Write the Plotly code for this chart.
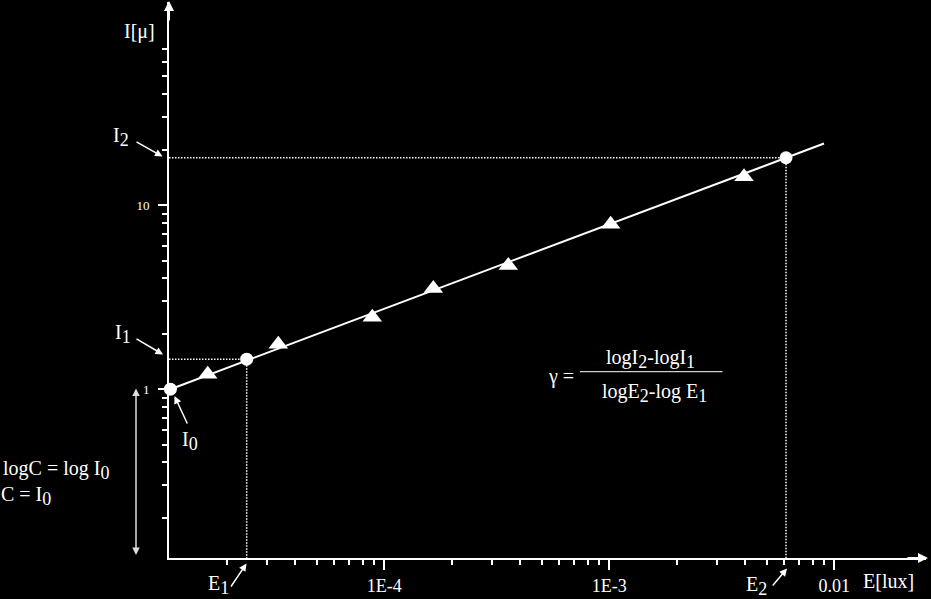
import plotly.graph_objects as go

# ---------------- data ----------------
# straight fitted line (log-log)
line_x = [1.12e-5, 9.0e-3]
line_y = [1.0, 21.6]

# measured points (triangles)
tri_x = [1.641e-5, 3.379e-5, 8.84e-5, 1.651e-4, 3.557e-4, 1.014e-3, 3.97e-3]
tri_y = [1.206, 1.757, 2.462, 3.527, 4.697, 7.88, 14.25]

# reference points I0, (E1,I1), (E2,I2)
circ_x = [1.12e-5, 2.445e-5, 6.10e-3]
circ_y = [1.0, 1.456, 18.07]

# axis ticks
x_major_vals = [1e-4, 1e-3, 1e-2]
x_major_text = ["1E-4", "1E-3", "0.01"]
x_minor_vals = [m * 10.0 ** e for e in (-5, -4, -3) for m in range(2, 10)]
y_major_vals = [1, 10]
y_major_text = ["1", "10"]
y_minor_vals = ([m / 10 for m in range(2, 10)] + list(range(2, 10))
                + [20, 30, 40, 50, 60, 70])

x_range = [-4.957, -1.5925]
y_range = [-0.9168, 2.103]

# ---------------- layout helpers ----------------
W, H = 931, 599
ML, MR, MT, MB = 169, 5, 2, 41
PW, PH = W - ML - MR, H - MT - MB


def px(xp):
    return (xp - ML) / PW


def py(yp):
    return (H - MB - yp) / PH


FONT = "Liberation Serif, Times New Roman, serif"
WHITE = "white"


def sub(s):
    return '<sub><span style="font-size:18px">%s</span></sub>' % s


fig = go.Figure()

xmin = 10 ** x_range[0]
ymin = 10 ** y_range[0]

# dotted guide lines from E1/I1 and E2/I2
for cx, cy in zip(circ_x[1:], circ_y[1:]):
    fig.add_trace(go.Scatter(x=[xmin, cx], y=[cy, cy], mode="lines",
                             line=dict(color=WHITE, width=1.5, dash="1.5px,1.5px"),
                             hoverinfo="skip", showlegend=False, cliponaxis=False))
    fig.add_trace(go.Scatter(x=[cx, cx], y=[cy, ymin], mode="lines",
                             line=dict(color=WHITE, width=1.5, dash="1.5px,1.5px"),
                             hoverinfo="skip", showlegend=False, cliponaxis=False))

fig.add_trace(go.Scatter(x=line_x, y=line_y, mode="lines",
                         line=dict(color=WHITE, width=2),
                         showlegend=False, cliponaxis=False))
fig.add_trace(go.Scatter(x=tri_x, y=tri_y, mode="markers",
                         marker=dict(symbol="triangle-up", size=17, color=WHITE),
                         showlegend=False, cliponaxis=False))
fig.add_trace(go.Scatter(x=circ_x, y=circ_y, mode="markers",
                         marker=dict(symbol="circle", size=13, color=WHITE),
                         showlegend=False, cliponaxis=False))

annotations = []


def text(t, xp, yp, size=20, xanchor="left", yanchor="middle"):
    annotations.append(dict(text=t, x=px(xp), y=py(yp), xref="paper", yref="paper",
                            showarrow=False, xanchor=xanchor, yanchor=yanchor,
                            font=dict(family=FONT, size=size, color=WHITE)))


def arrow(x0, y0, x1, y1, width=1.5, size=1.0, color=WHITE, side="end", head=2):
    annotations.append(dict(text="", x=px(x1), y=py(y1), xref="paper", yref="paper",
                            ax=x0 - x1, ay=y0 - y1, axref="pixel", ayref="pixel",
                            showarrow=True, arrowhead=head, startarrowhead=head,
                            arrowsize=size, startarrowsize=size,
                            arrowwidth=width, arrowcolor=color, arrowside=side,
                            standoff=0, startstandoff=0))


# axis arrow heads
arrow(906, 558, 928, 558, width=2, size=1.0)
arrow(169, 22, 169, 1, width=2, size=1.0)

# axis titles
text("I[μ]", 139, 31, xanchor="center")
text("E[lux]", 888, 581, xanchor="center")

# labelled arrows
text("I" + sub("2"), 111, 137)
arrow(135, 141, 162.5, 156.5)
text("I" + sub("1"), 113, 334)
arrow(135, 338, 163, 354.5)
text("I" + sub("0"), 180, 441)
arrow(188, 425, 174.5, 396)
text("E" + sub("1"), 206, 585)
arrow(230, 588, 246.5, 563.5)
text("E" + sub("2"), 744, 586)
arrow(771.5, 587, 787, 568.5)

# logC annotation with double arrow
arrow(136, 556.5, 136, 388.5, width=1.5, size=1.0, color="#dddddd", side="end+start")
text("logC = log I" + sub("0"), 1, 470)
text("C = I" + sub("0"), -1, 496)

# gamma formula
text("γ =", 546, 376)
text("logI" + sub("2") + "-logI" + sub("1"), 650, 359, xanchor="center")
text("logE" + sub("2") + "-log E" + sub("1"), 654, 393, xanchor="center")

shapes = [dict(type="line", xref="paper", yref="paper",
               x0=px(580), x1=px(722.5), y0=py(371.7), y1=py(371.7),
               line=dict(color=WHITE, width=1))]

axis_common = dict(type="log", showline=True, linecolor=WHITE, linewidth=2,
                   ticks="outside", tickwidth=2, tickcolor=WHITE,
                   showgrid=False, zeroline=False, automargin=False,
                   tickmode="array")

fig.update_layout(
    width=W, height=H,
    margin=dict(l=ML, r=MR, t=MT, b=MB, pad=0),
    paper_bgcolor="black", plot_bgcolor="black",
    showlegend=False,
    xaxis=dict(range=x_range, tickvals=x_major_vals, ticktext=x_major_text,
               ticklen=10, tickfont=dict(family=FONT, size=18, color=WHITE),
               minor=dict(tickmode="array", tickvals=x_minor_vals, ticks="outside",
                          ticklen=5, tickwidth=2, tickcolor=WHITE, showgrid=False),
               **axis_common),
    yaxis=dict(range=y_range, tickvals=y_major_vals, ticktext=y_major_text,
               ticklen=9, ticklabelstandoff=6,
               tickfont=dict(family=FONT, size=13, color=WHITE),
               minor=dict(tickmode="array", tickvals=y_minor_vals, ticks="outside",
                          ticklen=5, tickwidth=2, tickcolor=WHITE, showgrid=False),
               **axis_common),
    annotations=annotations,
    shapes=shapes,
)

fig.write_html(
    "out.html",
    config={"displayModeBar": False},
    post_script="document.body.style.margin='0';document.body.style.background='black';",
)
